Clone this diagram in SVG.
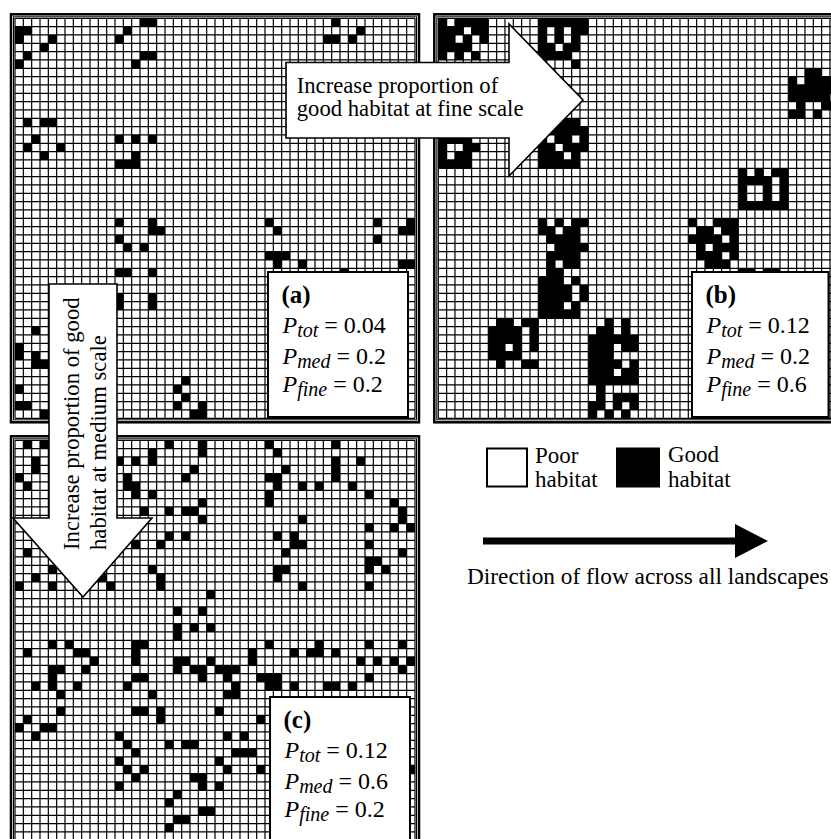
<svg xmlns="http://www.w3.org/2000/svg" xmlns:xlink="http://www.w3.org/1999/xlink" width="831" height="839" viewBox="0 0 831 839">
<style>
.bg{fill:#fff}
.cells{fill:#000}
.grid{fill:none;stroke:#000;stroke-width:1.2;vector-effect:non-scaling-stroke}
.bo{fill:none;stroke:#000;stroke-width:2.5}
.bi{fill:none;stroke:#000;stroke-width:1}
.arrow{fill:#fff;stroke:#000;stroke-width:1.6}
.box{fill:#fff;stroke:#000;stroke-width:2}
.t{font-family:"Liberation Serif","Times New Roman",serif;fill:#000}
.big{font-size:22.7px}
.lab{font-size:25px;font-weight:bold}
.eq{font-size:24px}
.i{font-style:italic}
.sub{font-style:italic;font-size:20px}
</style>
<defs>
<path id="g" class="grid" d="M0 0V48M1 0V48M2 0V48M3 0V48M4 0V48M5 0V48M6 0V48M7 0V48M8 0V48M9 0V48M10 0V48M11 0V48M12 0V48M13 0V48M14 0V48M15 0V48M16 0V48M17 0V48M18 0V48M19 0V48M20 0V48M21 0V48M22 0V48M23 0V48M24 0V48M25 0V48M26 0V48M27 0V48M28 0V48M29 0V48M30 0V48M31 0V48M32 0V48M33 0V48M34 0V48M35 0V48M36 0V48M37 0V48M38 0V48M39 0V48M40 0V48M41 0V48M42 0V48M43 0V48M44 0V48M45 0V48M46 0V48M47 0V48M48 0V48M0 0H48M0 1H48M0 2H48M0 3H48M0 4H48M0 5H48M0 6H48M0 7H48M0 8H48M0 9H48M0 10H48M0 11H48M0 12H48M0 13H48M0 14H48M0 15H48M0 16H48M0 17H48M0 18H48M0 19H48M0 20H48M0 21H48M0 22H48M0 23H48M0 24H48M0 25H48M0 26H48M0 27H48M0 28H48M0 29H48M0 30H48M0 31H48M0 32H48M0 33H48M0 34H48M0 35H48M0 36H48M0 37H48M0 38H48M0 39H48M0 40H48M0 41H48M0 42H48M0 43H48M0 44H48M0 45H48M0 46H48M0 47H48M0 48H48"/>
</defs>
<rect width="831" height="839" fill="#fff"/>

<g id="panel-a">
<rect class="bg" x="15" y="18.3" width="400" height="400"/>
<g transform="translate(15,18.3) scale(8.3333)">
<path class="cells" d="M0 1h2v1h-2zM0 2h1v1h-1zM4 2h1v1h-1zM3 3h1v1h-1zM1 4h1v1h-1zM0 5h1v1h-1zM15 0h2v1h-2zM13 1h1v1h-1zM12 2h1v1h-1zM15 4h2v1h-2zM14 5h1v1h-1zM38 0h1v1h-1zM37 2h2v1h-2zM41 1h1v1h-1zM40 2h1v1h-1zM1 12h1v1h-1zM3 12h2v1h-2zM2 14h1v1h-1zM1 15h1v1h-1zM5 15h1v1h-1zM3 16h1v1h-1zM12 14h1v1h-1zM14 14h1v1h-1zM16 14h1v1h-1zM14 16h1v1h-1zM12 17h3v1h-3zM12 24h1v1h-1zM16 24h1v1h-1zM16 25h2v1h-2zM12 26h1v1h-1zM13 27h1v1h-1zM15 27h1v1h-1zM12 30h2v1h-2zM16 30h1v1h-1zM12 33h1v2h-1zM16 33h1v2h-1zM30 24h1v1h-1zM31 25h1v1h-1zM30 28h3v1h-3zM31 29h1v1h-1zM34 29h1v1h-1zM43 24h1v1h-1zM43 26h1v1h-1zM47 24h1v1h-1zM46 25h2v1h-2zM46 29h2v1h-2zM39 30h1v1h-1zM2 37h1v1h-1zM0 39h1v2h-1zM2 40h1v1h-1zM2 41h2v1h-2zM0 44h1v1h-1zM0 46h2v1h-2zM3 47h1v1h-1zM20 43h1v1h-1zM19 44h1v1h-1zM20 45h1v1h-1zM19 46h1v1h-1zM22 46h1v1h-1zM21 47h2v1h-2z"/>
<use xlink:href="#g"/>
</g>
<rect class="bi" x="13.5" y="16.8" width="403" height="403"/>
<rect class="bo" x="11" y="14.3" width="408" height="408"/>
</g>

<g id="panel-b">
<rect class="bg" x="438.3" y="18.3" width="400" height="400"/>
<g transform="translate(438.3,18.3) scale(8.3333)">
<path class="cells" d="M0 0h1v1h-1zM2 0h4v1h-4zM0 1h3v1h-3zM4 1h2v1h-2zM0 2h2v1h-2zM3 2h1v1h-1zM5 2h1v1h-1zM0 3h4v1h-4zM0 4h1v1h-1zM2 4h1v1h-1zM4 4h1v1h-1zM12 0h6v1h-6zM12 1h1v1h-1zM14 1h1v1h-1zM16 1h2v1h-2zM12 2h1v1h-1zM14 2h1v1h-1zM16 2h1v1h-1zM12 3h2v1h-2zM15 3h2v1h-2zM12 4h4v1h-4zM16 5h1v1h-1zM0 14h4v1h-4zM0 15h1v1h-1zM3 15h2v1h-2zM0 16h1v1h-1zM2 16h2v1h-2zM0 17h4v1h-4zM13 12h4v1h-4zM12 13h6v1h-6zM12 14h1v1h-1zM14 14h2v1h-2zM17 14h1v1h-1zM12 15h2v1h-2zM15 15h3v1h-3zM12 16h3v1h-3zM16 16h1v1h-1zM12 17h5v1h-5zM44 6h2v1h-2zM42 7h1v1h-1zM44 7h4v1h-4zM42 8h6v1h-6zM42 9h5v1h-5zM43 10h1v1h-1zM46 10h2v1h-2zM42 11h2v1h-2zM45 11h1v1h-1zM36 18h1v1h-1zM38 18h1v1h-1zM40 18h2v1h-2zM36 19h4v1h-4zM41 19h1v1h-1zM36 20h1v1h-1zM39 20h1v1h-1zM41 20h1v1h-1zM36 21h1v1h-1zM39 21h1v1h-1zM41 21h1v1h-1zM36 22h6v1h-6zM30 24h1v1h-1zM33 24h3v1h-3zM31 25h2v1h-2zM34 25h2v1h-2zM30 26h4v1h-4zM35 26h1v1h-1zM31 27h1v1h-1zM33 27h3v1h-3zM31 28h3v1h-3zM35 28h1v1h-1zM32 29h3v1h-3zM36 30h2v1h-2zM39 30h2v1h-2zM12 24h1v1h-1zM14 24h1v1h-1zM16 24h2v1h-2zM12 25h2v1h-2zM15 25h2v1h-2zM13 26h4v1h-4zM14 27h4v1h-4zM13 28h4v1h-4zM13 29h1v1h-1zM15 29h2v1h-2zM13 30h2v1h-2zM12 31h3v1h-3zM16 31h1v1h-1zM12 32h4v1h-4zM17 32h1v1h-1zM12 33h4v1h-4zM17 33h1v1h-1zM12 34h3v1h-3zM16 34h1v1h-1zM12 35h5v1h-5zM7 36h2v1h-2zM10 36h2v1h-2zM6 37h4v1h-4zM11 37h1v1h-1zM6 38h4v1h-4zM11 38h1v1h-1zM6 39h2v1h-2zM9 39h1v1h-1zM11 39h1v1h-1zM6 40h4v1h-4zM7 41h1v1h-1zM10 41h2v1h-2zM20 36h1v1h-1zM22 36h1v1h-1zM19 37h2v1h-2zM22 37h1v1h-1zM18 38h6v1h-6zM18 39h3v1h-3zM22 39h2v1h-2zM18 40h3v1h-3zM18 41h4v1h-4zM23 41h1v1h-1zM18 42h3v1h-3zM22 42h2v1h-2zM18 43h6v1h-6zM19 44h1v1h-1zM19 45h1v1h-1zM21 45h3v1h-3zM18 46h2v1h-2zM21 46h1v1h-1zM23 46h1v1h-1zM18 47h1v1h-1zM20 47h1v1h-1zM22 47h1v1h-1zM43 47h1v1h-1zM45 47h1v1h-1z"/>
<use xlink:href="#g"/>
</g>
<rect class="bi" x="436.8" y="16.8" width="403" height="403"/>
<rect class="bo" x="434.3" y="14.3" width="408" height="408"/>
</g>

<g id="panel-c">
<rect class="bg" x="15" y="440.3" width="400" height="400"/>
<g transform="translate(15,440.3) scale(8.3333)">
<path class="cells" d="M1 0h1v1h-1zM3 0h1v1h-1zM2 2h1v2h-1zM0 4h1v1h-1zM1 5h1v1h-1zM12 2h1v1h-1zM14 2h1v1h-1zM16 1h1v2h-1zM18 0h1v1h-1zM22 0h1v2h-1zM13 4h1v1h-1zM13 5h2v1h-2zM14 6h1v1h-1zM16 6h1v1h-1zM20 4h1v1h-1zM21 3h1v1h-1zM22 7h1v1h-1zM20 8h2v1h-2zM18 8h1v1h-1zM15 8h1v1h-1zM22 9h1v1h-1zM18 11h1v1h-1zM20 11h1v1h-1zM17 12h1v1h-1zM14 12h1v1h-1zM1 13h1v1h-1zM2 16h1v1h-1zM0 17h1v1h-1zM4 15h1v1h-1zM4 17h1v1h-1zM10 16h1v1h-1zM11 17h1v1h-1zM16 15h1v1h-1zM17 16h1v2h-1zM30 0h1v1h-1zM31 1h1v1h-1zM30 4h2v1h-2zM31 5h1v1h-1zM30 6h1v2h-1zM32 3h1v1h-1zM34 5h1v1h-1zM36 5h1v1h-1zM34 9h1v1h-1zM31 11h1v1h-1zM33 11h1v1h-1zM33 12h2v1h-2zM32 13h1v1h-1zM31 15h2v1h-2zM31 16h1v1h-1zM34 17h1v1h-1zM38 0h1v1h-1zM38 2h1v3h-1zM40 5h1v1h-1zM41 2h1v1h-1zM42 6h1v1h-1zM45 7h1v1h-1zM46 8h1v2h-1zM45 10h1v1h-1zM47 10h1v1h-1zM42 10h1v1h-1zM42 12h1v1h-1zM46 13h1v1h-1zM42 14h2v1h-2zM42 15h1v1h-1zM44 15h1v1h-1zM42 17h1v1h-1zM23 18h1v1h-1zM19 20h1v1h-1zM22 20h1v1h-1zM21 22h1v1h-1zM23 22h1v1h-1zM19 22h1v2h-1zM4 24h1v1h-1zM6 24h1v1h-1zM1 25h1v1h-1zM7 25h2v1h-2zM9 26h1v1h-1zM4 27h2v1h-2zM8 27h1v1h-1zM4 28h1v2h-1zM2 29h1v1h-1zM7 29h1v1h-1zM5 30h1v1h-1zM5 32h1v1h-1zM1 33h1v1h-1zM0 34h1v1h-1zM3 34h2v1h-2zM2 35h1v1h-1zM14 24h2v1h-2zM14 25h1v2h-1zM14 28h2v1h-2zM13 29h1v1h-1zM16 30h1v1h-1zM14 32h2v1h-2zM17 32h1v2h-1zM19 26h2v1h-2zM19 27h1v1h-1zM21 27h2v1h-2zM22 28h1v1h-1zM23 26h1v1h-1zM24 27h3v1h-3zM25 28h1v1h-1zM26 29h1v1h-1zM25 30h2v1h-2zM24 32h1v1h-1zM28 25h1v2h-1zM29 28h1v1h-1zM30 28h2v2h-2zM30 24h1v1h-1zM33 25h1v1h-1zM35 25h2v1h-2zM36 24h1v1h-1zM38 25h1v1h-1zM33 29h1v1h-1zM37 29h2v1h-2zM40 29h1v1h-1zM42 24h1v1h-1zM41 26h1v1h-1zM43 26h1v1h-1zM42 28h1v1h-1zM46 24h1v1h-1zM45 26h1v1h-1zM47 26h1v1h-1zM46 27h1v1h-1zM29 33h1v1h-1zM12 35h1v1h-1zM13 36h1v1h-1zM14 37h1v1h-1zM12 38h1v1h-1zM13 39h1v1h-1zM15 39h1v1h-1zM14 40h1v1h-1zM12 41h1v1h-1zM18 36h1v1h-1zM20 36h2v1h-2zM25 35h1v1h-1zM27 35h1v1h-1zM26 37h3v1h-3zM24 38h1v1h-1zM25 39h1v1h-1zM29 39h1v1h-1zM22 40h1v2h-1zM21 40h1v1h-1zM24 41h1v1h-1zM19 42h1v1h-1zM18 43h1v1h-1zM22 44h2v1h-2zM19 45h2v1h-2zM18 46h1v1h-1zM47 39h1v1h-1z"/>
<use xlink:href="#g"/>
</g>
<rect class="bi" x="13.5" y="438.8" width="403" height="403"/>
<rect class="bo" x="11" y="436.3" width="408" height="408"/>
</g>

<g id="connectors">
<g id="arrow-fine">
<polygon class="arrow" points="286,62.5 509,62.5 509,24 583,100 509,176 509,138 286,138"/>
<text class="t big" x="296.7" y="93.3">Increase proportion of</text>
<text class="t big" x="296.7" y="116">good habitat at fine scale</text>
</g>
<g id="arrow-medium">
<polygon class="arrow" points="49,284 117,284 117,518 152,518 83,597 13,518 49,518"/>
<text class="t big" transform="translate(79,550) rotate(-90)">Increase proportion of good</text>
<text class="t big" transform="translate(106,550) rotate(-90)">habitat at medium scale</text>
</g>
<g id="flow-arrow">
<line x1="483" y1="541" x2="737" y2="541" stroke="#000" stroke-width="7"/>
<polygon points="735,524 768,541 735,558" fill="#000"/>
<text class="t" font-size="23.3" x="467" y="584">Direction of flow across all landscapes</text>
</g>
</g>

<g id="label-a">
<rect class="box" x="268" y="272" width="140" height="145"/>
<text class="t lab" x="281.5" y="303">(a)</text>
<text class="t eq" x="282.5" y="333"><tspan class="i">P</tspan><tspan class="sub" dy="4">tot</tspan><tspan dy="-4"> = 0.04</tspan></text>
<text class="t eq" x="282.5" y="364"><tspan class="i">P</tspan><tspan class="sub" dy="4">med</tspan><tspan dy="-4"> = 0.2</tspan></text>
<text class="t eq" x="282.5" y="392"><tspan class="i">P</tspan><tspan class="sub" dy="4">fine</tspan><tspan dy="-4"> = 0.2</tspan></text>
</g>

<g id="label-b">
<rect class="box" x="692" y="272" width="136.5" height="145"/>
<text class="t lab" x="705.5" y="303">(b)</text>
<text class="t eq" x="706.5" y="333"><tspan class="i">P</tspan><tspan class="sub" dy="4">tot</tspan><tspan dy="-4"> = 0.12</tspan></text>
<text class="t eq" x="706.5" y="364"><tspan class="i">P</tspan><tspan class="sub" dy="4">med</tspan><tspan dy="-4"> = 0.2</tspan></text>
<text class="t eq" x="706.5" y="392"><tspan class="i">P</tspan><tspan class="sub" dy="4">fine</tspan><tspan dy="-4"> = 0.6</tspan></text>
</g>

<g id="label-c">
<rect class="box" x="270" y="697" width="140" height="150"/>
<text class="t lab" x="283.5" y="728">(c)</text>
<text class="t eq" x="284.5" y="758"><tspan class="i">P</tspan><tspan class="sub" dy="4">tot</tspan><tspan dy="-4"> = 0.12</tspan></text>
<text class="t eq" x="284.5" y="789"><tspan class="i">P</tspan><tspan class="sub" dy="4">med</tspan><tspan dy="-4"> = 0.6</tspan></text>
<text class="t eq" x="284.5" y="817"><tspan class="i">P</tspan><tspan class="sub" dy="4">fine</tspan><tspan dy="-4"> = 0.2</tspan></text>
</g>

<g id="legend">
<g id="legend-poor">
<rect x="487" y="448.5" width="40" height="38" fill="#fff" stroke="#000" stroke-width="2"/>
<text class="t" font-size="23" x="535" y="463">Poor</text>
<text class="t" font-size="23" x="535" y="487">habitat</text>
</g>
<g id="legend-good">
<rect x="617" y="448.5" width="42" height="38" fill="#000" stroke="#000" stroke-width="2"/>
<text class="t" font-size="23" x="668" y="462">Good</text>
<text class="t" font-size="23" x="668" y="487">habitat</text>
</g>
</g>
</svg>
